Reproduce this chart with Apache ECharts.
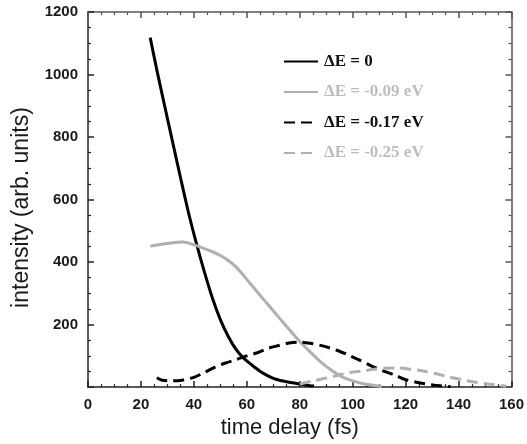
<!DOCTYPE html>
<html><head><meta charset="utf-8">
<script src="https://cdn.jsdelivr.net/npm/echarts@6/dist/echarts.min.js"></script>
<style>html,body{margin:0;padding:0;background:#fff}#c{width:527px;height:444px}</style>
</head><body><div id="c"></div>
<script>
const names = ['\u0394E = 0', '\u0394E = -0.09 eV', '\u0394E = -0.17 eV', '\u0394E = -0.25 eV'];
const xTicks = [0, 20, 40, 60, 80, 100, 120, 140, 160];
const yTicks = [200, 400, 600, 800, 1000, 1200];

const e0X = [23.5, 26, 29, 32, 35, 38, 41, 44, 47, 50, 53, 56, 59, 62, 65, 68, 71, 75, 80, 85];
const e0Y = [1118, 1015, 898, 783, 668, 557, 458, 368, 285, 216, 162, 120, 91, 70, 51, 36, 25, 17, 10, 3];

const e09X = [23.5, 28, 32, 36, 40, 44, 47, 50, 53, 56, 59, 62, 65, 68, 71, 74, 77, 80, 84, 88, 92, 96, 100, 105, 111];
const e09Y = [451, 457, 462, 464, 455, 443, 433, 421, 405, 384, 355, 324, 294, 264, 234, 204, 175, 146, 112, 80, 54, 33, 20, 9, 2];

const e17X = [26, 28, 32, 36, 40, 44, 48, 52, 56, 60, 64, 68, 72, 76, 80, 84, 89, 94, 98, 103, 107, 112, 116, 120, 125, 131, 137];
const e17Y = [30, 22, 20, 23, 31, 47, 64, 77, 88, 100, 110, 124, 133, 141, 144, 140, 131, 118, 104, 85, 68, 50, 38, 24, 14, 6, 1];

const e25X = [80, 85, 90, 94, 99, 104, 108, 112, 117, 122, 127, 132, 136, 141, 146, 152, 158];
const e25Y = [10, 20, 29, 37, 47, 52, 57, 60, 61, 57, 51, 42, 33, 24, 16, 9, 3];

const colors = ['#000000', '#b0b0b0', '#000000', '#b0b0b0'];
const textColors = ['#111111', '#bdbdbd', '#111111', '#bdbdbd'];
const dashes = ['solid', 'solid', [11, 6], [11, 6]];
const xs = [e0X, e09X, e17X, e25X];
const ys = [e0Y, e09Y, e17Y, e25Y];

const pair = (a, b) => a.map((v, i) => [v, b[i]]);

const chart = echarts.init(document.getElementById('c'), null, {renderer: 'canvas'});
function axisCommon(color) {
  return {
    axisLine: {show: true, onZero: false, lineStyle: {color: color, width: 1.5}},
    axisTick: {show: true, inside: true, length: 6, lineStyle: {color: color, width: 1.5}},
    minorTick: {show: true, splitNumber: 4, length: 3, lineStyle: {color: color, width: 1.2}},
    splitLine: {show: false}
  };
}
const labelFont = {fontFamily: 'Liberation Sans', fontWeight: 'bold', fontSize: 15, color: '#1a1a1a'};
chart.setOption({
  animation: false,
  backgroundColor: '#fff',
  grid: {left: 88, right: 15, top: 12, bottom: 53},
  legend: {
    orient: 'vertical', left: 283, top: 53, padding: 0,
    itemWidth: 34, itemHeight: 17, itemGap: 13.5,
    selectedMode: false,
    itemStyle: {opacity: 0},
    data: names.map((n, i) => ({name: n, textStyle: {color: textColors[i]}})),
    textStyle: {fontFamily: 'Liberation Serif', fontWeight: 'bold', fontSize: 17, padding: [0, 0, 0, 1]}
  },
  xAxis: [
    Object.assign(axisCommon('#222'), {
      type: 'value', min: 0, max: 160, interval: 20, position: 'bottom',
      name: 'time delay (fs)', nameLocation: 'middle', nameGap: 28,
      nameTextStyle: {fontFamily: 'Liberation Sans', fontSize: 22, color: '#1a1a1a', padding: [0, 20, 0, 0]},
      axisLabel: Object.assign({margin: 10, formatter: v => xTicks.includes(v) ? String(v) : ''}, labelFont)
    }),
    Object.assign(axisCommon('#555'), {
      type: 'value', min: 0, max: 160, interval: 20, position: 'top', axisLabel: {show: false}
    })
  ],
  yAxis: [
    Object.assign(axisCommon('#222'), {
      type: 'value', min: 0, max: 1200, interval: 200, position: 'left',
      name: 'intensity (arb. units)', nameLocation: 'middle', nameGap: 55,
      nameTextStyle: {fontFamily: 'Liberation Sans', fontSize: 23, color: '#1a1a1a', padding: [0, 16, 0, 0]},
      axisLabel: Object.assign({margin: 10, formatter: v => yTicks.includes(v) ? String(v) : ''}, labelFont)
    }),
    Object.assign(axisCommon('#555'), {
      type: 'value', min: 0, max: 1200, interval: 200, position: 'right', axisLabel: {show: false}
    })
  ],
  series: names.map((n, i) => ({
    name: n, type: 'line', smooth: 0.3, symbol: 'none',
    data: pair(xs[i], ys[i]),
    lineStyle: {color: colors[i], width: 3, type: dashes[i], cap: 'butt'},
    itemStyle: {color: colors[i]}
  }))
});
</script></body></html>
